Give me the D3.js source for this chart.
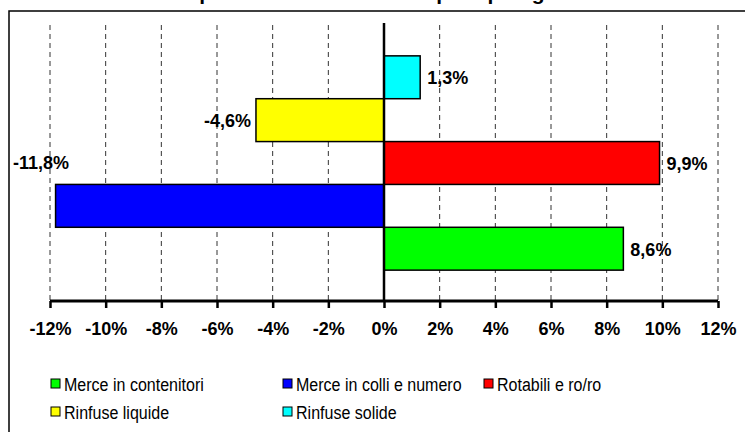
<!DOCTYPE html>
<html>
<head>
<meta charset="utf-8">
<script src="https://cdn.jsdelivr.net/npm/d3@7"></script>
<style>
  body { margin: 0; background: #fff; }
  text { font-family: "Liberation Sans", Arial, sans-serif; }
</style>
</head>
<body>
<div id="grafico"></div>
<script>
// Dati del grafico (dal basso verso l'alto)
const categorie = ["Merce in contenitori", "Merce in colli e numero", "Rotabili e ro/ro", "Rinfuse liquide", "Rinfuse solide"];
const valori = [8.6, -11.8, 9.9, -4.6, 1.3];
const etichette = ["8,6%", "-11,8%", "9,9%", "-4,6%", "1,3%"];
const colori = ["#00ff00", "#0000ff", "#ff0000", "#ffff00", "#00ffff"];
const tickValori = [-12, -10, -8, -6, -4, -2, 0, 2, 4, 6, 8, 10, 12];
const titolo = "Variazione percentuale del traffico per tipologia di merce";

const W = 745, H = 432;

const svg = d3.select("#grafico")
  .append("svg")
  .attr("width", W)
  .attr("height", H);

// cornice esterna
svg.append("rect")
  .attr("x", 9).attr("y", 11)
  .attr("width", 760).attr("height", 440)
  .attr("fill", "none")
  .attr("stroke", "#000")
  .attr("stroke-width", 1.5);

// titolo (tagliato in alto come nell'originale)
svg.append("text")
  .attr("x", 372).attr("y", 0)
  .attr("text-anchor", "middle")
  .attr("font-size", 21).attr("font-weight", "bold")
  .text(titolo);

const plotTop = 25, plotBottom = 301;

const x = d3.scaleLinear().domain([-12, 12]).range([50, 718]);
const y = d3.scaleBand()
  .domain(categorie)
  .range([plotBottom, plotTop])
  .paddingInner(0)
  .paddingOuter(0.72);

// griglia tratteggiata
svg.append("g")
  .selectAll("line")
  .data(tickValori.filter(d => d !== 0))
  .join("line")
  .attr("x1", d => x(d)).attr("x2", d => x(d))
  .attr("y1", plotTop).attr("y2", plotBottom)
  .attr("stroke", "#333")
  .attr("stroke-width", 1)
  .attr("stroke-dasharray", "5,4");

// barre
svg.append("g")
  .selectAll("rect")
  .data(categorie)
  .join("rect")
  .attr("x", (d, i) => x(Math.min(0, valori[i])))
  .attr("y", d => y(d))
  .attr("width", (d, i) => Math.abs(x(valori[i]) - x(0)))
  .attr("height", y.bandwidth())
  .attr("fill", (d, i) => colori[i])
  .attr("stroke", "#000")
  .attr("stroke-width", 1.5);

// linea dello zero
svg.append("line")
  .attr("x1", x(0)).attr("x2", x(0))
  .attr("y1", plotTop - 2).attr("y2", plotBottom)
  .attr("stroke", "#000")
  .attr("stroke-width", 2.5);

// asse x
const asse = svg.append("g")
  .attr("transform", `translate(0,${plotBottom})`)
  .call(d3.axisBottom(x).tickValues(tickValori).tickSize(7).tickPadding(14)
    .tickFormat(d => d + "%"));
asse.select(".domain").attr("stroke-width", 3).attr("d", `M${x(-12)},0H${x(12)}`);
asse.selectAll(".tick line").attr("stroke-width", 2.5);
asse.selectAll(".tick text")
  .attr("font-size", 18)
  .attr("font-weight", "bold")
  .attr("font-family", "Liberation Sans, Arial, sans-serif")
  .attr("fill", "#000");

// etichette dei valori
svg.append("g")
  .selectAll("text")
  .data(categorie)
  .join("text")
  .attr("x", (d, i) => {
    const v = valori[i];
    if (v < -11) return 13;           // fuori dal grafico: va sopra, a sinistra
    return v >= 0 ? x(v) + 7 : x(v) - 5;
  })
  .attr("y", (d, i) => valori[i] < -11 ? y(d) - 15 : y(d) + y.bandwidth() / 2 + 7)
  .attr("text-anchor", (d, i) => (valori[i] >= 0 || valori[i] < -11) ? "start" : "end")
  .attr("font-size", 18)
  .attr("font-weight", "bold")
  .text((d, i) => etichette[i]);

// legenda
const legX = [51, 283, 484];
const legY = [384, 412];
const leg = svg.append("g")
  .selectAll("g")
  .data(categorie)
  .join("g")
  .attr("transform", (d, i) => `translate(${legX[i % 3]},${legY[Math.floor(i / 3)]})`);

leg.append("rect")
  .attr("x", 0).attr("y", -5)
  .attr("width", 9).attr("height", 9)
  .attr("fill", (d, i) => colori[i])
  .attr("stroke", "#000")
  .attr("stroke-width", 1);

// testo un po' stretto, come nell'originale
leg.append("text")
  .attr("x", 13).attr("y", 6.5)
  .attr("font-size", 18)
  .text(d => d)
  .each(function() {
    const w = this.getComputedTextLength();
    d3.select(this)
      .attr("textLength", w * 0.89)
      .attr("lengthAdjust", "spacingAndGlyphs");
  });
</script>
</body>
</html>
